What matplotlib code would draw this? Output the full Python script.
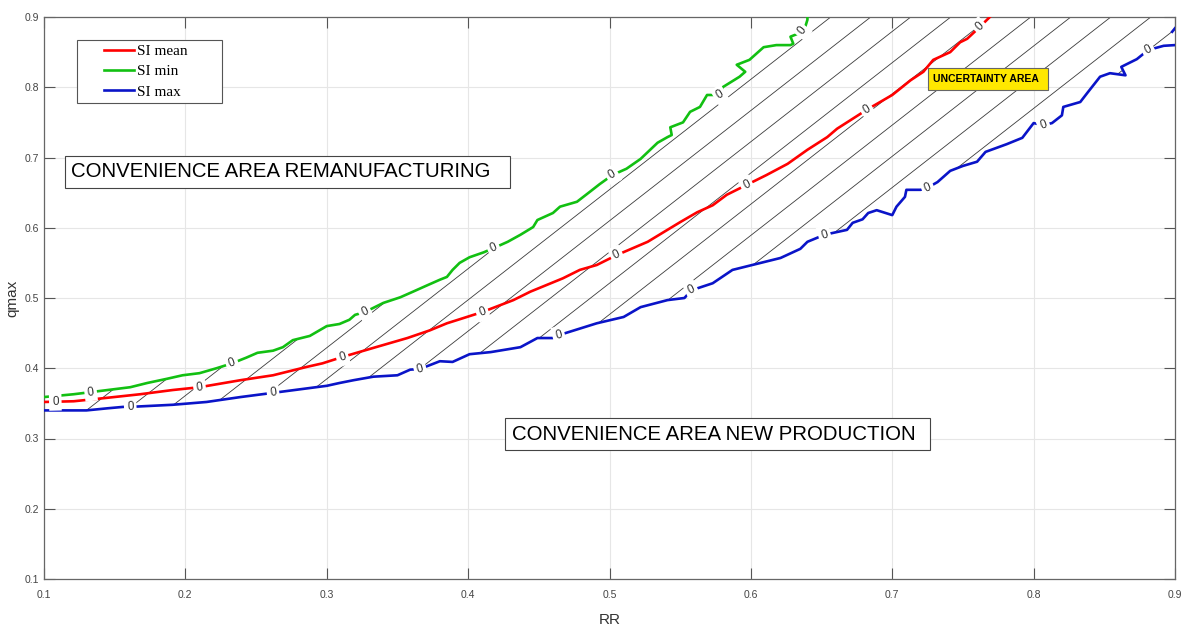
import numpy as np
import matplotlib.pyplot as plt
from matplotlib.patches import Polygon, Rectangle
from matplotlib.legend_handler import HandlerLine2D

plt.rcParams['font.family'] = ['Liberation Sans', 'DejaVu Sans']

# zero-level contours (RR on x, qmax on y)
mean_x = [0.100, 0.121, 0.145, 0.168, 0.191, 0.210, 0.239, 0.262, 0.286, 0.297, 0.311, 0.333,
          0.357, 0.373, 0.385, 0.396, 0.410, 0.432, 0.444, 0.467, 0.479, 0.491, 0.505, 0.527,
          0.550, 0.562, 0.573, 0.583, 0.597, 0.611, 0.626, 0.640, 0.654, 0.661, 0.682, 0.700,
          0.705, 0.713, 0.722, 0.729, 0.741, 0.748, 0.753, 0.762, 0.769]
mean_y = [0.352, 0.353, 0.358, 0.363, 0.369, 0.373, 0.383, 0.390, 0.402, 0.407, 0.416, 0.429,
          0.443, 0.454, 0.464, 0.471, 0.480, 0.497, 0.509, 0.528, 0.540, 0.547, 0.561, 0.580,
          0.608, 0.622, 0.632, 0.647, 0.661, 0.675, 0.691, 0.711, 0.729, 0.741, 0.768, 0.789,
          0.797, 0.810, 0.822, 0.839, 0.850, 0.864, 0.869, 0.886, 0.900]

min_x = [0.100, 0.121, 0.133, 0.145, 0.161, 0.173, 0.187, 0.198, 0.210, 0.222, 0.233, 0.243,
         0.251, 0.262, 0.269, 0.276, 0.288, 0.300, 0.309, 0.316, 0.320, 0.327, 0.340, 0.352,
         0.361, 0.371, 0.380, 0.385, 0.389, 0.394, 0.401, 0.411, 0.418, 0.428, 0.437, 0.446,
         0.449, 0.460, 0.465, 0.477, 0.486, 0.493, 0.502, 0.512, 0.522, 0.534, 0.541, 0.544,
         0.543, 0.552, 0.557, 0.564, 0.569, 0.573, 0.578, 0.580, 0.592, 0.596, 0.590, 0.599,
         0.609, 0.618, 0.628, 0.630, 0.628, 0.633, 0.638, 0.640, 0.640]
min_y = [0.359, 0.363, 0.366, 0.369, 0.373, 0.379, 0.385, 0.390, 0.393, 0.400, 0.407, 0.415,
         0.422, 0.425, 0.430, 0.440, 0.446, 0.460, 0.463, 0.469, 0.476, 0.480, 0.493, 0.501,
         0.509, 0.518, 0.526, 0.530, 0.540, 0.550, 0.558, 0.565, 0.571, 0.580, 0.590, 0.601,
         0.611, 0.621, 0.630, 0.637, 0.651, 0.662, 0.675, 0.684, 0.698, 0.721, 0.729, 0.732,
         0.743, 0.750, 0.765, 0.772, 0.789, 0.789, 0.789, 0.800, 0.815, 0.822, 0.832, 0.839,
         0.857, 0.860, 0.860, 0.862, 0.872, 0.876, 0.883, 0.896, 0.900]

max_x = [0.100, 0.130, 0.145, 0.156, 0.161, 0.191, 0.215, 0.239, 0.262, 0.300, 0.309, 0.319,
         0.333, 0.350, 0.359, 0.366, 0.380, 0.389, 0.401, 0.416, 0.437, 0.449, 0.460, 0.464,
         0.491, 0.510, 0.522, 0.541, 0.553, 0.558, 0.573, 0.587, 0.609, 0.621, 0.635, 0.640,
         0.652, 0.668, 0.672, 0.679, 0.683, 0.689, 0.700, 0.703, 0.709, 0.710, 0.720, 0.725,
         0.732, 0.741, 0.750, 0.760, 0.766, 0.781, 0.792, 0.800, 0.807, 0.813, 0.820, 0.821,
         0.833, 0.838, 0.847, 0.854, 0.865, 0.862, 0.873, 0.881, 0.892, 0.900,
         np.nan, 0.898, 0.900]
max_y = [0.340, 0.340, 0.343, 0.345, 0.345, 0.348, 0.352, 0.359, 0.365, 0.375, 0.379, 0.383,
         0.388, 0.390, 0.398, 0.399, 0.410, 0.409, 0.420, 0.423, 0.430, 0.443, 0.443, 0.447,
         0.464, 0.473, 0.487, 0.497, 0.500, 0.511, 0.521, 0.540, 0.551, 0.557, 0.570, 0.580,
         0.590, 0.597, 0.607, 0.612, 0.621, 0.625, 0.618, 0.630, 0.644, 0.654, 0.654, 0.657,
         0.665, 0.681, 0.688, 0.694, 0.708, 0.719, 0.728, 0.749, 0.746, 0.749, 0.760, 0.772,
         0.779, 0.792, 0.815, 0.820, 0.817, 0.829, 0.840, 0.853, 0.859, 0.860,
         np.nan, 0.879, 0.884]

# where the contour labels ("0") sit, by RR
mean_lbl = [0.108, 0.210, 0.311, 0.410, 0.505, 0.597, 0.682, 0.762]
min_lbl = [0.133, 0.233, 0.327, 0.418, 0.502, 0.578, 0.636]
max_lbl = [0.161, 0.262, 0.366, 0.464, 0.558, 0.652, 0.725, 0.807, 0.881]

ticks = [0.1, 0.2, 0.3, 0.4, 0.5, 0.6, 0.7, 0.8, 0.9]
tick_labels = ['0.1', '0.2', '0.3', '0.4', '0.5', '0.6', '0.7', '0.8', '0.9']

# hatching between the min and max contours
hatch_slope = 1.57
hatch_step = 0.0283
hatch_x0 = 0.13
hatch_y0 = 0.34


def y_at(xs, ys, x0):
    for i in range(len(xs) - 1):
        a, b = xs[i], xs[i + 1]
        if np.isnan(a) or np.isnan(b) or a == b:
            continue
        if min(a, b) <= x0 <= max(a, b):
            t = (x0 - a) / (b - a)
            return ys[i] + t * (ys[i + 1] - ys[i])
    return np.nan


fig = plt.figure(figsize=(11.84, 6.29), dpi=100)
ax = fig.add_axes([44 / 1184, 1 - 579 / 629, 1131 / 1184, 562 / 629])
ax.set_xlim(0.1, 0.9)
ax.set_ylim(0.1, 0.9)

ax.grid(True, color='#e6e6e6', lw=0.8)
ax.set_axisbelow(True)

# hatch region
fin = ~np.isnan(np.array(max_x))
bx = np.array(max_x)[fin][:70]
by = np.array(max_y)[fin][:70]
verts = list(zip(min_x, min_y)) + [(min_x[-1], 1.5), (1.5, 1.5), (1.5, by[-1])] + list(zip(bx[::-1], by[::-1]))
region = Polygon(verts, closed=True, transform=ax.transData)
for k in range(40):
    xa = hatch_x0 + k * hatch_step
    ln, = ax.plot([xa - 1, xa + 1], [hatch_y0 - hatch_slope, hatch_y0 + hatch_slope],
                  color='#3a3a3a', lw=0.6, zorder=2)
    ln.set_clip_path(region)

l_mean, = ax.plot(mean_x, mean_y, color='#ff0000', lw=1.9, zorder=3, label='SI mean')
l_min, = ax.plot(min_x, min_y, color='#12c012', lw=1.9, zorder=3, label='SI min')
l_max, = ax.plot(max_x, max_y, color='#0a14c8', lw=1.9, zorder=3, label='SI max')

# inline contour labels
for xs, ys, lbls in [(mean_x, mean_y, mean_lbl), (min_x, min_y, min_lbl), (max_x, max_y, max_lbl)]:
    lo, hi = np.nanmin(xs), np.nanmax(xs)
    for xl in lbls:
        yl = y_at(xs, ys, xl)
        xa, xb = max(xl - 0.01, lo), min(xl + 0.01, hi)
        p1 = ax.transData.transform((xa, y_at(xs, ys, xa)))
        p2 = ax.transData.transform((xb, y_at(xs, ys, xb)))
        ang = np.degrees(np.arctan2(p2[1] - p1[1], p2[0] - p1[0]))
        ax.text(xl, yl, '0', fontsize=8.5, color='#333333', ha='center', va='center',
                rotation=ang, rotation_mode='anchor', zorder=4,
                bbox=dict(boxstyle='square,pad=0.25', fc='white', ec='none'))

# annotation boxes
for (x0, y0, x1, y1, fc, ec) in [(0.1149, 0.6566, 0.4296, 0.7021, 'white', '#444444'),
                                 (0.4261, 0.2836, 0.7267, 0.3292, 'white', '#444444'),
                                 (0.7253, 0.7961, 0.8102, 0.8274, '#ffe800', '#666666')]:
    ax.add_patch(Rectangle((x0, y0), x1 - x0, y1 - y0, fc=fc, ec=ec, lw=0.8, zorder=5))

ax.text(0.1191, 0.6794, 'CONVENIENCE AREA REMANUFACTURING', fontsize=14.7, color='black',
        ha='left', va='center', zorder=6)
ax.text(0.431, 0.3064, 'CONVENIENCE AREA NEW PRODUCTION', fontsize=14.7, color='black',
        ha='left', va='center', zorder=6)
ax.text(0.7288, 0.8117, 'UNCERTAINTY AREA', fontsize=7.5, fontweight='bold', color='black',
        ha='left', va='center', zorder=6)

leg = ax.legend(handles=[l_mean, l_min, l_max], loc='upper left',
                bbox_to_anchor=(33 / 1131, 1 - 86 / 562, 145 / 1131, 63 / 562), mode='expand',
                borderaxespad=0, prop={'family': 'Liberation Serif', 'size': 11},
                fancybox=False, edgecolor='#555555', framealpha=1,
                handlelength=3.45, handletextpad=0.2, labelspacing=0.42, borderpad=0.3,
                handler_map={l: HandlerLine2D(xpad=1.45) for l in [l_mean, l_min, l_max]})
leg.get_frame().set_linewidth(0.8)
leg.set_zorder(7)

ax.set_xticks(ticks)
ax.set_xticklabels(tick_labels)
ax.set_yticks(ticks)
ax.set_yticklabels(tick_labels)
ax.tick_params(direction='in', length=8, width=0.8, top=True, right=True,
               color='#555555', labelcolor='#444444', labelsize=7.5)
ax.tick_params(axis='x', pad=8)
for s in ax.spines.values():
    s.set_color('#666666')
    s.set_linewidth(0.9)

ax.set_xlabel('RR', fontsize=11, color='#333333', labelpad=9)
ax.set_ylabel('qmax', fontsize=11, color='#333333', labelpad=4)

fig.savefig('out.png', dpi=100)
